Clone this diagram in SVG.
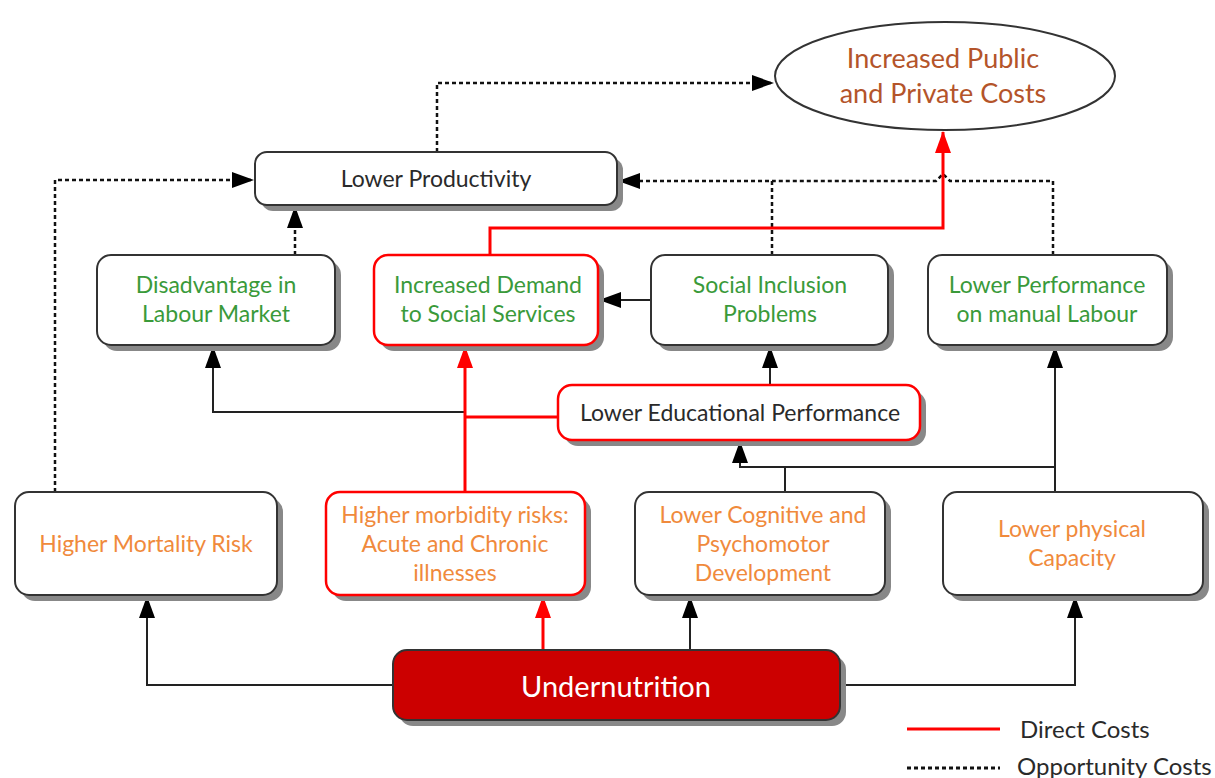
<svg xmlns="http://www.w3.org/2000/svg" width="1215" height="778" viewBox="0 0 1215 778">
<style>
text{font-family:Lato,"Open Sans","Liberation Sans",sans-serif;font-size:23px;text-anchor:middle;dominant-baseline:central}
.box{fill:#fff;stroke:#333;stroke-width:2}
.rbox{fill:#fff;stroke:#ff0000;stroke-width:2.5}
.sh{fill:#888}
.g{fill:#3a9a3a}
.o{fill:#f08a3c}
.d{fill:#2a2a2a}
.br{fill:#b4542a}
.ln{fill:none;stroke:#222;stroke-width:2}
.dash{fill:none;stroke:#111;stroke-width:2.5;stroke-dasharray:4 3}
.red{fill:none;stroke:#ff0000;stroke-width:3}
</style>
<defs>
<marker id="ab" markerUnits="userSpaceOnUse" markerWidth="22" markerHeight="16" refX="21" refY="8" orient="auto"><path d="M0,0 L22,8 L0,16 z" fill="#000"/></marker>
<marker id="ar" markerUnits="userSpaceOnUse" markerWidth="22" markerHeight="16" refX="21" refY="8" orient="auto"><path d="M0,0 L22,8 L0,16 z" fill="#ff0000"/></marker>
</defs>
<rect width="1215" height="778" fill="#fff"/>

<g id="connectors">
<path class="dash" d="M437,152 V83 H773" marker-end="url(#ab)"/>
<path class="dash" d="M55,492 V180 H253" marker-end="url(#ab)"/>
<path class="dash" d="M295,255 V207" marker-end="url(#ab)"/>
<path class="dash" d="M772,255 V181 H619" marker-end="url(#ab)"/>
<path class="dash" d="M1053,255 V181 H950 L943,174 L936,181 H772"/>
<path class="red" d="M490,255 V228 H943 V132" marker-end="url(#ar)"/>
<path class="ln" d="M651,300 H600" marker-end="url(#ab)"/>
<path class="ln" d="M770,385 V347" marker-end="url(#ab)"/>
<path class="ln" d="M465,412 H213 V347" marker-end="url(#ab)"/>
<path class="red" d="M558,417 H465"/>
<path class="red" d="M465,492 V347" marker-end="url(#ar)"/>
<path class="ln" d="M785,492 V467 H740 V442" marker-end="url(#ab)"/>
<path class="ln" d="M785,467 H1055"/>
<path class="ln" d="M1055,492 V347" marker-end="url(#ab)"/>
<path class="ln" d="M393,685 H147 V597" marker-end="url(#ab)"/>
<path class="red" d="M543,650 V597" marker-end="url(#ar)"/>
<path class="ln" d="M690,650 V597" marker-end="url(#ab)"/>
<path class="ln" d="M840,685 H1075 V597" marker-end="url(#ab)"/>
</g>

<g id="n-costs">
<ellipse cx="945" cy="76" rx="170" ry="54" fill="#fff" stroke="#333" stroke-width="2"/>
<text class="br" x="943" y="57" style="font-size:27px">Increased Public</text>
<text class="br" x="943" y="92" style="font-size:27px">and Private Costs</text>
</g>

<g id="n-productivity">
<rect class="sh" x="261" y="158" width="362" height="53" rx="12"/>
<rect class="box" x="255" y="152" width="362" height="53" rx="12"/>
<text class="d" x="436" y="178">Lower Productivity</text>
</g>

<g id="n-disadvantage">
<rect class="sh" x="103" y="261" width="238" height="90" rx="14"/>
<rect class="box" x="97" y="255" width="238" height="90" rx="14"/>
<text class="g" x="216" y="284">Disadvantage in</text>
<text class="g" x="216" y="313">Labour Market</text>
</g>

<g id="n-demand">
<rect class="sh" x="380" y="261" width="224" height="90" rx="14"/>
<rect class="rbox" x="374" y="255" width="224" height="90" rx="14"/>
<text class="g" x="488" y="284">Increased Demand</text>
<text class="g" x="488" y="313">to Social Services</text>
</g>

<g id="n-social">
<rect class="sh" x="657" y="261" width="237" height="90" rx="14"/>
<rect class="box" x="651" y="255" width="237" height="90" rx="14"/>
<text class="g" x="770" y="284">Social Inclusion</text>
<text class="g" x="770" y="313">Problems</text>
</g>

<g id="n-manual">
<rect class="sh" x="934" y="261" width="239" height="90" rx="14"/>
<rect class="box" x="928" y="255" width="239" height="90" rx="14"/>
<text class="g" x="1047" y="284">Lower Performance</text>
<text class="g" x="1047" y="313">on manual Labour</text>
</g>

<g id="n-education">
<rect class="sh" x="564" y="391" width="362" height="55" rx="14"/>
<rect class="rbox" x="558" y="385" width="362" height="55" rx="14"/>
<text class="d" x="740" y="412">Lower Educational Performance</text>
</g>

<g id="n-mortality">
<rect class="sh" x="21" y="498" width="262" height="103" rx="14"/>
<rect class="box" x="15" y="492" width="262" height="103" rx="14"/>
<text class="o" x="146" y="543">Higher Mortality Risk</text>
</g>

<g id="n-morbidity">
<rect class="sh" x="332" y="498" width="259" height="103" rx="14"/>
<rect class="rbox" x="326" y="492" width="259" height="103" rx="14"/>
<text class="o" x="455" y="514">Higher morbidity risks:</text>
<text class="o" x="455" y="543">Acute and Chronic</text>
<text class="o" x="455" y="572">illnesses</text>
</g>

<g id="n-cognitive">
<rect class="sh" x="641" y="498" width="250" height="103" rx="14"/>
<rect class="box" x="635" y="492" width="250" height="103" rx="14"/>
<text class="o" x="763" y="514">Lower Cognitive and</text>
<text class="o" x="763" y="543">Psychomotor</text>
<text class="o" x="763" y="572">Development</text>
</g>

<g id="n-physical">
<rect class="sh" x="949" y="498" width="260" height="103" rx="14"/>
<rect class="box" x="943" y="492" width="260" height="103" rx="14"/>
<text class="o" x="1072" y="528">Lower physical</text>
<text class="o" x="1072" y="557">Capacity</text>
</g>

<g id="n-undernutrition">
<rect class="sh" x="399" y="656" width="447" height="70" rx="14"/>
<rect x="393" y="650" width="447" height="70" rx="14" fill="#cc0000" stroke="#333" stroke-width="2"/>
<text x="616" y="685" fill="#fff" style="font-size:29px">Undernutrition</text>
</g>

<g id="legend">
<line x1="907" y1="729" x2="1000" y2="729" stroke="#ff0000" stroke-width="3"/>
<text class="d" x="1020" y="728" style="text-anchor:start;font-size:24px">Direct Costs</text>
<line x1="907" y1="768" x2="1000" y2="768" stroke="#111" stroke-width="3" stroke-dasharray="4 3"/>
<text class="d" x="1017" y="765" style="text-anchor:start;font-size:24px">Opportunity Costs</text>
</g>
</svg>
